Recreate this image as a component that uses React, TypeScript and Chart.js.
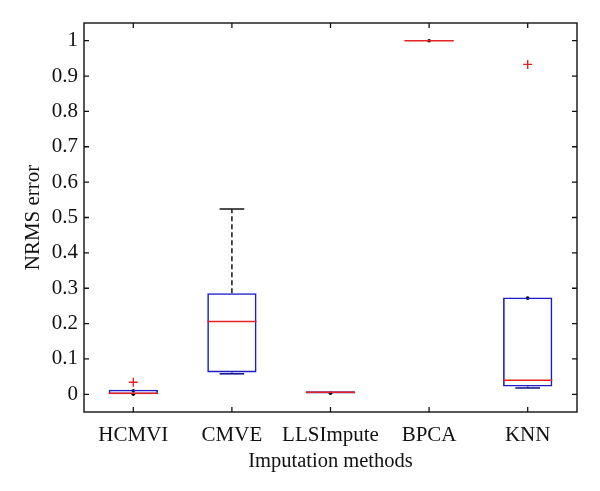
import React, { useEffect, useRef } from "react";
import { Chart, registerables } from "chart.js";

Chart.register(...registerables);

const CATEGORIES = ["HCMVI", "CMVE", "LLSImpute", "BPCA", "KNN"];
const Q1 = [0.0, 0.062, 0.002, 1.0, 0.022];
const Q3 = [0.013, 0.286, 0.009, 1.0, 0.274];
const MEDIAN = [0.003, 0.206, 0.006, 1.0, 0.04];
const WHISKER_LOW = [0.0, 0.058, 0.002, 1.0, 0.018];
const WHISKER_HIGH = [0.013, 0.524, 0.009, 1.0, 0.274];
const OUTLIER_CATS = ["HCMVI", "KNN"];
const OUTLIER_VALUES = [0.034, 0.933];
const DOT_CATS = ["HCMVI", "HCMVI", "LLSImpute", "BPCA", "KNN"];
const DOT_VALUES = [0.01, 0.0, 0.003, 1.0, 0.272];
const Y_TICKS = [0, 0.1, 0.2, 0.3, 0.4, 0.5, 0.6, 0.7, 0.8, 0.9, 1];

const FONT = "'Liberation Serif', 'DejaVu Serif', serif";
const BOX_COLOR = "#1c1cc8";
const MEDIAN_COLOR = "#e52222";
const WHISKER_COLOR = "#222222";

const boxPlugin = {
  id: "boxExtras",
  afterDatasetsDraw(chart: any) {
    const { ctx, chartArea } = chart;
    const x = chart.scales.x;
    const y = chart.scales.y;
    const boxMeta = chart.getDatasetMeta(0);
    ctx.save();
    CATEGORIES.forEach((c, i) => {
      const bar = boxMeta.data[i];
      const half = bar ? bar.width / 2 : 25;
      const cx = x.getPixelForValue(i);
      const capHalf = half / 2;
      ctx.strokeStyle = WHISKER_COLOR;
      ctx.lineWidth = 1.6;
      ctx.setLineDash([5, 3]);
      const yq3 = y.getPixelForValue(Q3[i]);
      const yq1 = y.getPixelForValue(Q1[i]);
      const yhi = y.getPixelForValue(WHISKER_HIGH[i]);
      const ylo = y.getPixelForValue(WHISKER_LOW[i]);
      if (yhi < yq3) {
        ctx.beginPath();
        ctx.moveTo(cx, yq3);
        ctx.lineTo(cx, yhi);
        ctx.stroke();
      }
      if (ylo > yq1) {
        ctx.beginPath();
        ctx.moveTo(cx, yq1);
        ctx.lineTo(cx, ylo);
        ctx.stroke();
      }
      ctx.setLineDash([]);
      ctx.lineWidth = 1.6;
      if (WHISKER_HIGH[i] !== Q3[i]) {
        ctx.strokeStyle = WHISKER_COLOR;
        ctx.beginPath();
        ctx.moveTo(cx - capHalf, yhi);
        ctx.lineTo(cx + capHalf, yhi);
        ctx.stroke();
      }
      if (WHISKER_LOW[i] !== Q1[i]) {
        ctx.strokeStyle = "#1a1a90";
        ctx.beginPath();
        ctx.moveTo(cx - capHalf, ylo);
        ctx.lineTo(cx + capHalf, ylo);
        ctx.stroke();
      }
      ctx.strokeStyle = MEDIAN_COLOR;
      ctx.lineWidth = 1.5;
      const ym = y.getPixelForValue(MEDIAN[i]);
      ctx.beginPath();
      ctx.moveTo(cx - half, ym);
      ctx.lineTo(cx + half, ym);
      ctx.stroke();
    });
    ctx.strokeStyle = "#111";
    ctx.lineWidth = 1.4;
    const { left, right, top, bottom } = chartArea;
    ctx.strokeRect(left, top, right - left, bottom - top);
    ctx.lineWidth = 1.3;
    const tl = 5;
    Y_TICKS.forEach((v) => {
      const py = y.getPixelForValue(v);
      ctx.beginPath();
      ctx.moveTo(left, py);
      ctx.lineTo(left + tl, py);
      ctx.moveTo(right, py);
      ctx.lineTo(right - tl, py);
      ctx.stroke();
    });
    CATEGORIES.forEach((c, i) => {
      const px = x.getPixelForValue(i);
      ctx.beginPath();
      ctx.moveTo(px, bottom);
      ctx.lineTo(px, bottom - tl);
      ctx.moveTo(px, top);
      ctx.lineTo(px, top + tl);
      ctx.stroke();
    });
    ctx.restore();
  },
};

export default function App() {
  const ref = useRef<HTMLCanvasElement | null>(null);
  useEffect(() => {
    if (!ref.current) return;
    const chart = new Chart(ref.current, {
      type: "bar",
      data: {
        labels: CATEGORIES,
        datasets: [
          {
            type: "bar",
            data: CATEGORIES.map((c, i) => [Q1[i], Q3[i]]) as any,
            backgroundColor: "rgba(0,0,0,0)",
            borderColor: BOX_COLOR,
            borderWidth: 1.6,
            borderSkipped: false,
            barPercentage: 0.5,
            categoryPercentage: 1,
          } as any,
          {
            type: "scatter",
            data: OUTLIER_CATS.map((c, i) => ({ x: c, y: OUTLIER_VALUES[i] })) as any,
            pointStyle: "cross",
            radius: 4.5,
            borderColor: MEDIAN_COLOR,
            borderWidth: 1.4,
            backgroundColor: MEDIAN_COLOR,
          } as any,
          {
            type: "scatter",
            data: DOT_CATS.map((c, i) => ({ x: c, y: DOT_VALUES[i] })) as any,
            pointStyle: "circle",
            radius: 1.8,
            borderWidth: 0,
            backgroundColor: "#000",
          } as any,
        ],
      },
      options: {
        animation: false,
        responsive: false,
        maintainAspectRatio: false,
        layout: { padding: { left: 0, right: 23, top: 23, bottom: 0 } },
        plugins: { legend: { display: false }, tooltip: { enabled: false } },
        scales: {
          x: {
            type: "category",
            offset: true,
            grid: { display: false, drawTicks: false },
            border: { display: false },
            ticks: {
              color: "#111",
              font: { family: FONT, size: 21 },
              padding: 11,
              maxRotation: 0,
              autoSkip: false,
            },
            title: {
              display: true,
              text: "Imputation methods",
              color: "#111",
              font: { family: FONT, size: 20.5 },
              padding: { top: 0, bottom: 17 },
            },
            afterFit: (s: any) => {
              s.height = 79;
            },
          },
          y: {
            type: "linear",
            min: -0.05,
            max: 1.05,
            grid: { display: false, drawTicks: false },
            border: { display: false },
            afterBuildTicks: (s: any) => {
              s.ticks = Y_TICKS.map((v) => ({ value: v }));
            },
            ticks: {
              color: "#111",
              font: { family: FONT, size: 21 },
              padding: 6,
              callback: (v: any) => String(Math.round(Number(v) * 10) / 10),
            },
            title: {
              display: true,
              text: "NRMS error",
              color: "#111",
              font: { family: FONT, size: 21 },
              padding: { top: 21, bottom: 0 },
            },
            afterFit: (s: any) => {
              s.width = 84;
            },
          },
        },
      },
      plugins: [boxPlugin],
    } as any);
    return () => chart.destroy();
  }, []);
  return (
    <div style={{ position: "fixed", left: 0, top: 0, width: 600, height: 491, background: "#fff" }}>
      <canvas ref={ref} width={600} height={491} style={{ width: 600, height: 491 }} />
    </div>
  );
}
